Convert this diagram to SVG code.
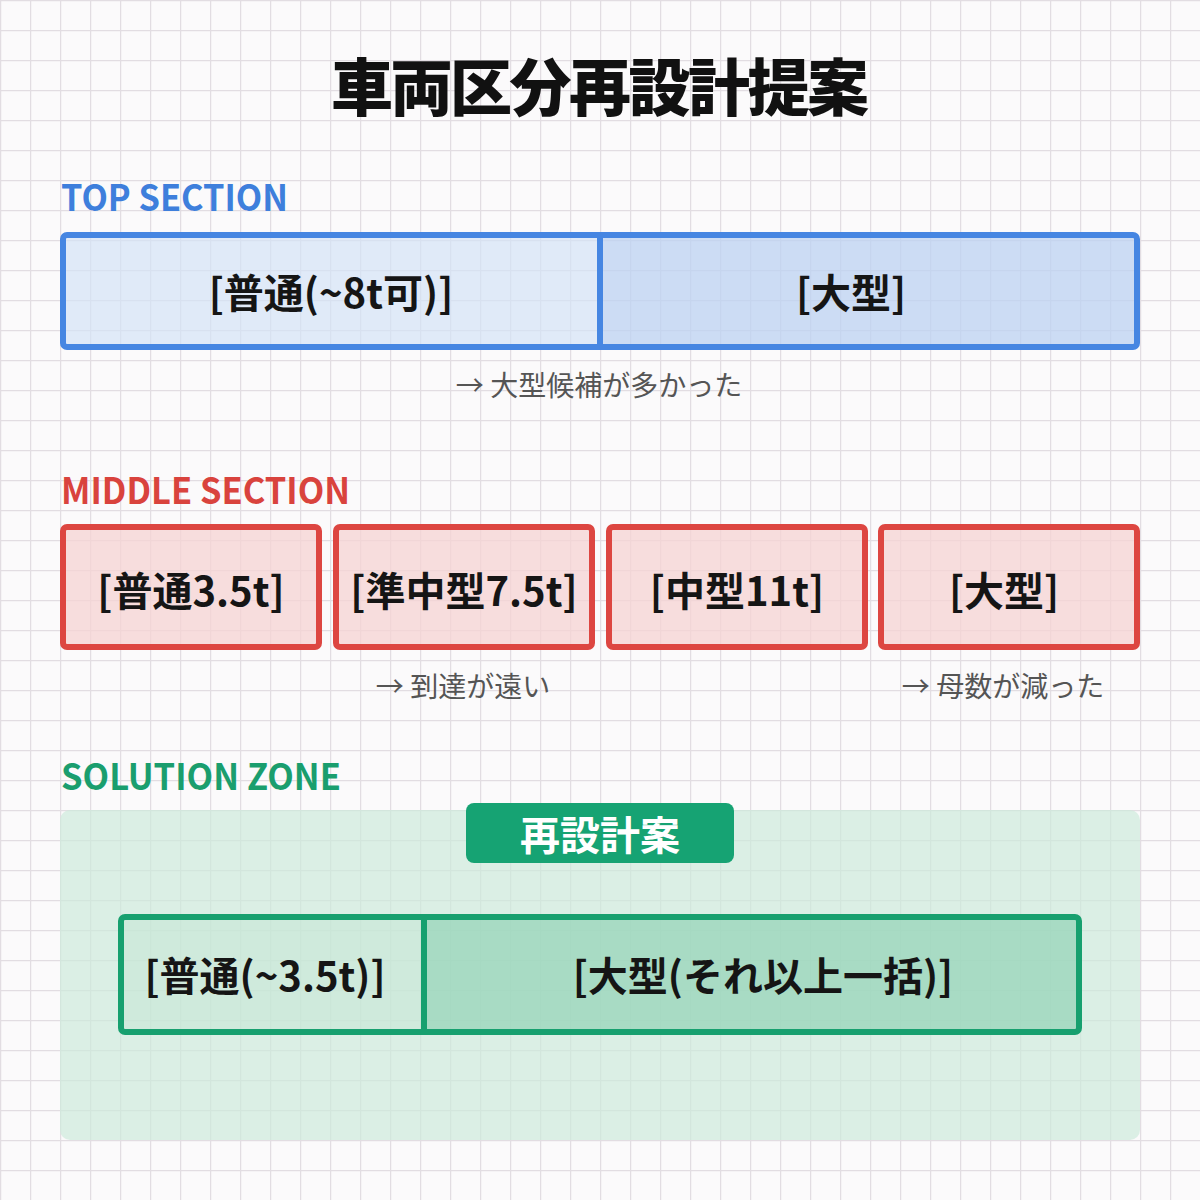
<svg xmlns="http://www.w3.org/2000/svg" width="1200" height="1200" viewBox="0 0 1200 1200">
  <defs>
    <pattern id="grid" width="30" height="30" patternUnits="userSpaceOnUse">
      <path d="M0 0.5H30M0.5 0V30" fill="none" stroke="#e2dde2" stroke-width="1.5"/>
    </pattern>
  </defs>
  <style>
    .jp { font-family: "Noto Sans CJK JP", "Noto Sans", sans-serif; }
    .title { font-size: 62px; font-weight: 900; fill: #111; }
    .head { font-size: 36px; font-weight: 700; }
    .lbl { font-size: 40px; font-weight: 700; fill: #151515; text-anchor: middle; }
    .note { font-size: 28px; font-weight: 400; fill: #555; text-anchor: middle; }
    .blue { stroke: #4686e2; stroke-width: 6; }
    .red { stroke: #dd4641; stroke-width: 6; }
    .green { stroke: #17a06f; stroke-width: 6; }
  </style>
  <rect width="1200" height="1200" fill="#fbfafb"/>
  <rect width="1200" height="1200" fill="url(#grid)"/>

  <text class="jp title" x="600" y="111" text-anchor="middle" textLength="538" lengthAdjust="spacing">車両区分再設計提案</text>

  <!-- TOP SECTION -->
  <g id="top-section">
    <text class="jp head" x="61" y="211" fill="#3e7fdc" textLength="227" lengthAdjust="spacingAndGlyphs">TOP SECTION</text>
    <g id="top-futsu">
      <rect x="63" y="235" width="537" height="112" fill="#d4e2f7" fill-opacity="0.7"/>
      <text class="jp lbl" x="331" y="308">[普通(~8t可)]</text>
    </g>
    <g id="top-ogata">
      <rect x="600" y="235" width="537" height="112" fill="#bcd2f2" fill-opacity="0.75"/>
      <text class="jp lbl" x="851" y="308">[大型]</text>
    </g>
    <rect x="63" y="235" width="1074" height="112" rx="4" fill="none" class="blue"/>
    <line x1="600" y1="235" x2="600" y2="347" class="blue"/>
    <text class="jp note" x="599" y="396">→ 大型候補が多かった</text>
  </g>

  <!-- MIDDLE SECTION -->
  <g id="middle-section">
    <text class="jp head" x="61" y="504" fill="#d9433d" textLength="289" lengthAdjust="spacingAndGlyphs">MIDDLE SECTION</text>
    <g id="mid-futsu">
      <rect x="63" y="527" width="256" height="120" rx="4" fill="#f6d3d3" fill-opacity="0.75" class="red"/>
      <text class="jp lbl" x="191" y="606">[普通3.5t]</text>
    </g>
    <g id="mid-junchu">
      <rect x="336" y="527" width="256" height="120" rx="4" fill="#f6d3d3" fill-opacity="0.75" class="red"/>
      <text class="jp lbl" x="464" y="606">[準中型7.5t]</text>
    </g>
    <g id="mid-chu">
      <rect x="609" y="527" width="256" height="120" rx="4" fill="#f6d3d3" fill-opacity="0.75" class="red"/>
      <text class="jp lbl" x="737" y="606">[中型11t]</text>
    </g>
    <g id="mid-ogata">
      <rect x="881" y="527" width="256" height="120" rx="4" fill="#f6d3d3" fill-opacity="0.75" class="red"/>
      <text class="jp lbl" x="1004" y="606">[大型]</text>
    </g>
    <text class="jp note" x="463" y="697">→ 到達が遠い</text>
    <text class="jp note" x="1003" y="697">→ 母数が減った</text>
  </g>

  <!-- SOLUTION ZONE -->
  <g id="solution-zone">
    <text class="jp head" x="61" y="790" fill="#1a9e6e" textLength="280" lengthAdjust="spacingAndGlyphs">SOLUTION ZONE</text>
    <rect x="60" y="810" width="1080" height="330" rx="10" fill="#cdeadc" fill-opacity="0.7"/>
    <g id="badge">
      <rect x="466" y="803" width="268" height="60" rx="8" fill="#16a373"/>
      <text class="jp lbl" x="600" y="850" style="fill:#ffffff">再設計案</text>
    </g>
    <g id="sol-futsu">
      <rect x="121" y="917" width="303" height="115" fill="#c6e6d6" fill-opacity="0.6"/>
      <text class="jp lbl" x="265" y="991">[普通(~3.5t)]</text>
    </g>
    <g id="sol-ogata">
      <rect x="424" y="917" width="655" height="115" fill="#93d3b6" fill-opacity="0.7"/>
      <text class="jp lbl" x="763" y="991">[大型(それ以上一括)]</text>
    </g>
    <rect x="121" y="917" width="958" height="115" rx="4" fill="none" class="green"/>
    <line x1="424" y1="917" x2="424" y2="1032" class="green"/>
  </g>
</svg>
